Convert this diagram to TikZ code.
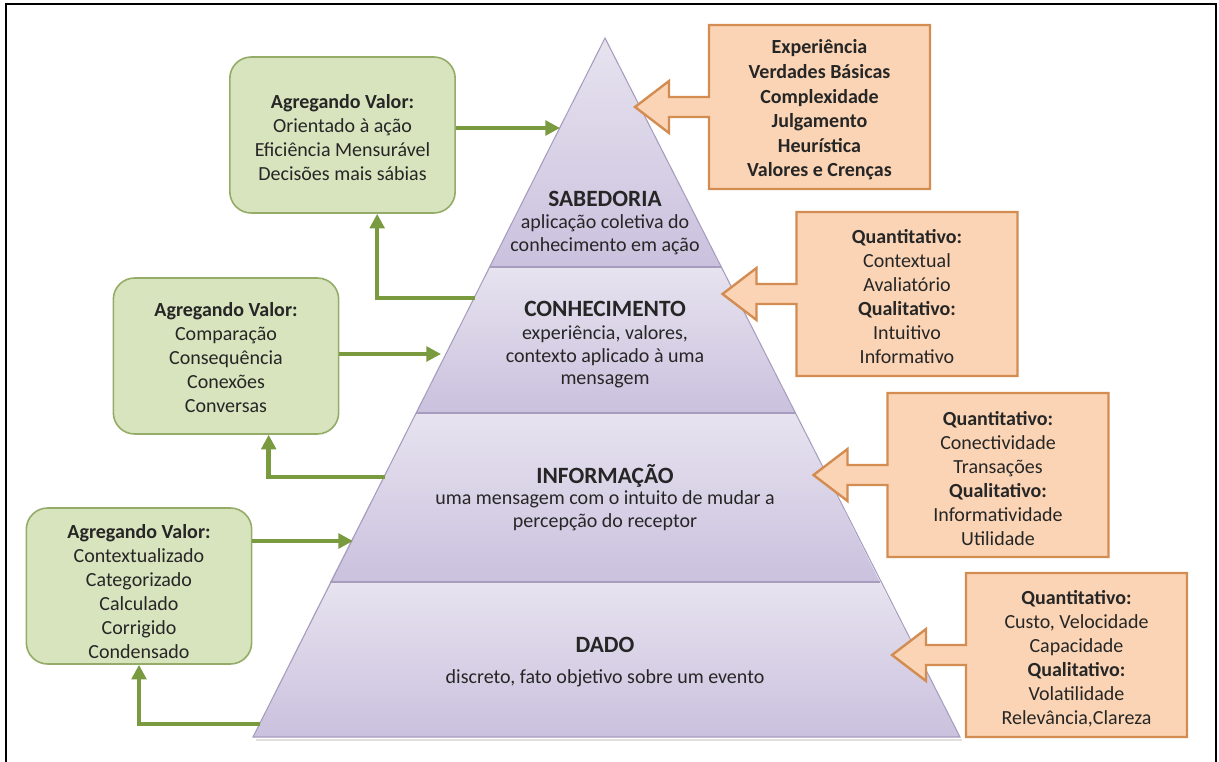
\documentclass[tikz,border=0pt]{standalone}
\usepackage{fontspec}
\setmainfont{Carlito}
\usetikzlibrary{arrows.meta,calc}

\definecolor{greenfill}{HTML}{D8E4BE}
\definecolor{greenline}{HTML}{94AC68}
\definecolor{greenarrow}{HTML}{7A9A3F}
\definecolor{orangefill}{HTML}{FAD4B4}
\definecolor{orangeline}{HTML}{D38C52}
\definecolor{pyrlight}{HTML}{E7E3EF}
\definecolor{pyrdark}{HTML}{CAC1DE}
\definecolor{pyredge}{HTML}{A69CBD}
\definecolor{inktext}{HTML}{262626}

\tikzset{
  greenbox/.style={draw=greenline, fill=greenfill, line width=1.2pt,
    rounded corners=16pt, minimum width=169pt, minimum height=117pt, inner sep=0pt},
  boxtext/.style={align=center, inner sep=0pt, font=\fontsize{15}{18}\selectfont},
  orangeshape/.style={draw=orangeline, fill=orangefill, line width=1.8pt, line join=miter},
  garrow/.style={draw=greenarrow, line width=3.3pt, line join=miter,
    -{Triangle[length=11pt,width=11pt]}},
  pyrtitle/.style={inner sep=0pt, font=\fontsize{17.5}{20}\selectfont\bfseries},
  pyrbody/.style={align=center, inner sep=0pt, font=\fontsize{15}{17}\selectfont},
}

% box with a left-pointing block arrow: centre x, centre y
\newcommand\infoshape[2]{%
  \filldraw[orangeshape]
    (#1-110.5,#2-82) -- (#1+110.5,#2-82) -- (#1+110.5,#2+82) -- (#1-110.5,#2+82)
    -- (#1-110.5,#2+10) -- (#1-150.5,#2+10) -- (#1-150.5,#2+26) -- (#1-184.5,#2)
    -- (#1-150.5,#2-26) -- (#1-150.5,#2-10) -- (#1-110.5,#2-10) -- cycle;}

\begin{document}
\begin{tikzpicture}[x=0.75pt, y=-0.75pt, text=inktext]
\useasboundingbox (0,0) rectangle (1219,762);

% page frame
\draw[line width=1.5pt] (6,762) -- (6,4) -- (1216,4) -- (1216,762);

% pyramid layers
\shade[top color=pyrlight, bottom color=pyrdark]
  (605,38) -- (721,267) -- (490,267) -- cycle;
\shade[top color=pyrlight, bottom color=pyrdark]
  (490,267) -- (721,267) -- (795,413) -- (416,413) -- cycle;
\shade[top color=pyrlight, bottom color=pyrdark]
  (416,413) -- (795,413) -- (880,582) -- (330,582) -- cycle;
\shade[top color=pyrlight, bottom color=pyrdark]
  (330,582) -- (880,582) -- (960,737) -- (253,737) -- cycle;
\draw[black!12, line width=1.5pt] (256,740) -- (962,740);
\draw[pyredge, line width=0.8pt] (253,737) -- (605,38) -- (960,737) -- cycle;
\draw[pyredge, line width=1.2pt] (490,267) -- (721,267)
  (416,413) -- (795,413) (330,582) -- (880,582);

% pyramid labels
\node[pyrtitle] (sab) at (605,199) {SABEDORIA};
\node[pyrbody] (sabt) at (605,235) {aplicação coletiva do\\conhecimento em ação};
\node[pyrtitle] (con) at (605,309) {CONHECIMENTO};
\node[pyrbody] (cont) at (605,357) {experiência, valores,\\contexto aplicado à uma\\mensagem};
\node[pyrtitle] (inf) at (605,476) {INFORMAÇÃO};
\node[pyrbody] (inft) at (605,511) {uma mensagem com o intuito de mudar a\\percepção do receptor};
\node[pyrtitle] (dad) at (605,645) {DADO};
\node[pyrbody] (dadt) at (605,678) {discreto, fato objetivo sobre um evento};

% value-adding boxes
\node[greenbox] (g1) at (342.5,135) {};
\node[boxtext] (g1t) at (342.5,138) {\textbf{Agregando Valor:}\\Orientado à ação\\Eficiência Mensurável\\Decisões mais sábias};
\node[greenbox] (g2) at (226,356) {};
\node[boxtext] (g2t) at (226,358) {\textbf{Agregando Valor:}\\Comparação\\Consequência\\Conexões\\Conversas};
\node[greenbox] (g3) at (139,586) {};
\node[boxtext] (g3t) at (139,592) {\textbf{Agregando Valor:}\\Contextualizado\\Categorizado\\Calculado\\Corrigido\\Condensado};

% arrow ends on the pyramid edges
\coordinate (t1) at (560,128);
\coordinate (t2) at (441,354);
\coordinate (t3) at (353,541);
\coordinate (s1) at (475,298);
\coordinate (s2) at (385,477);
\coordinate (s3) at (260,724);

\draw[garrow] (g1.east |- t1) -- (t1);
\draw[garrow] (g2.east |- t2) -- (t2);
\draw[garrow] (g3.east |- t3) -- (t3);
\draw[garrow] (s1) -| ([xshift=26pt]g1.south);
\draw[garrow] (s2) -| ([xshift=32pt]g2.south);
\draw[garrow] (s3) -| (g3.south);

% measure boxes with block arrows
\infoshape{819.5}{107}
\node[boxtext, font=\fontsize{15}{18.4}\selectfont\bfseries] (o1) at (819.5,110)
  {Experiência\\Verdades Básicas\\Complexidade\\Julgamento\\Heurística\\Valores e Crenças};
\infoshape{907}{294}
\node[boxtext] (o2) at (907,297)
  {\textbf{Quantitativo:}\\Contextual\\Avaliatório\\\textbf{Qualitativo:}\\Intuitivo\\Informativo};
\infoshape{998}{475}
\node[boxtext] (o3) at (998,479)
  {\textbf{Quantitativo:}\\Conectividade\\Transações\\\textbf{Qualitativo:}\\Informatividade\\Utilidade};
\infoshape{1076.5}{655}
\node[boxtext] (o4) at (1076.5,659)
  {\textbf{Quantitativo:}\\Custo, Velocidade\\Capacidade\\\textbf{Qualitativo:}\\Volatilidade\\Relevância,Clareza};
\end{tikzpicture}
\end{document}
